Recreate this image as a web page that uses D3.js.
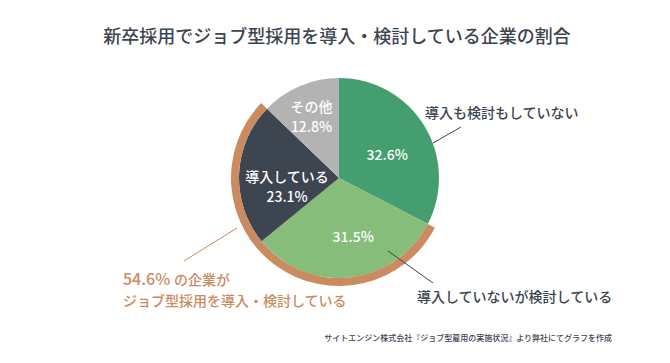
<!DOCTYPE html>
<html>
<head>
<meta charset="utf-8">
<script src="https://cdn.jsdelivr.net/npm/d3@7"></script>
<style>
  body { margin: 0; background: #fff; }
  text { font-family: "Noto Sans CJK JP", "Noto Sans", sans-serif; }
</style>
</head>
<body>
<svg id="chart" width="670" height="363"></svg>
<script>
// data
var categories = ["導入も検討もしていない", "導入していないが検討している", "導入している", "その他"];
var values = [32.6, 31.5, 23.1, 12.8];
var colors = ["#459e6f", "#86bd7a", "#3c4550", "#b3b3b3"];
var insideNames = ["", "", "導入している", "その他"];
var highlight = [1, 2]; // slices covered by the orange ring

var title = "新卒採用でジョブ型採用を導入・検討している企業の割合";
var source = "サイトエンジン株式会社『ジョブ型雇用の実施状況』より弊社にてグラフを作成";

// small nudges of the inside labels (layout only)
var nudge = [[-3, 8], [8, -1], [8, 11], [-4, -6]];

var svg = d3.select("#chart");
var cx = 339, cy = 178, R = 100;
var dark = "#3c4450", orange = "#c98b5f";

svg.append("text")
  .attr("x", 337).attr("y", 43)
  .attr("text-anchor", "middle")
  .attr("font-size", 18).attr("font-weight", 500)
  .attr("fill", dark)
  .text(title);

var g = svg.append("g").attr("transform", "translate(" + cx + "," + cy + ")");

var pie = d3.pie().sort(null).value(function(d) { return d; });
var arcs = pie(values);
var arc = d3.arc().innerRadius(0).outerRadius(R);
var labelArc = d3.arc().innerRadius(60).outerRadius(60);

g.selectAll("path.slice")
  .data(arcs)
  .enter().append("path")
  .attr("class", "slice")
  .attr("d", arc)
  .attr("fill", function(d, i) { return colors[i]; });

// orange ring around the highlighted slices
var ring = d3.arc().innerRadius(R).outerRadius(R + 8)
  .startAngle(arcs[highlight[0]].startAngle)
  .endAngle(arcs[highlight[highlight.length - 1]].endAngle);
g.append("path").attr("d", ring()).attr("fill", orange);

// labels inside slices
arcs.forEach(function(d, i) {
  var c = labelArc.centroid(d);
  var x = c[0] + nudge[i][0], y = c[1] + nudge[i][1];
  var t = g.append("text")
    .attr("text-anchor", "middle")
    .attr("fill", "#fff")
    .attr("font-size", 14).attr("font-weight", 500);
  if (insideNames[i]) {
    t.append("tspan").attr("x", x).attr("y", y - 5).text(insideNames[i]);
    t.append("tspan").attr("x", x).attr("y", y + 15).text(values[i].toFixed(1) + "%");
  } else {
    t.attr("x", x).attr("y", y + 5).text(values[i].toFixed(1) + "%");
  }
});

// leader lines + outside labels
svg.append("line").attr("x1", 433).attr("y1", 143).attr("x2", 461).attr("y2", 127)
  .attr("stroke", dark).attr("stroke-width", 1);
svg.append("text").attr("x", 425).attr("y", 118)
  .attr("font-size", 14).attr("font-weight", 500).attr("fill", dark)
  .text(categories[0]);

svg.append("line").attr("x1", 388).attr("y1", 251).attr("x2", 433).attr("y2", 283)
  .attr("stroke", dark).attr("stroke-width", 1);
svg.append("text").attr("x", 417).attr("y", 302)
  .attr("font-size", 14).attr("font-weight", 500).attr("fill", dark)
  .text(categories[1]);

var total = values[highlight[0]] + values[highlight[1]];
svg.append("line").attr("x1", 237).attr("y1", 228).attr("x2", 184).attr("y2", 261)
  .attr("stroke", orange).attr("stroke-width", 1);
svg.append("text").attr("x", 123).attr("y", 285)
  .attr("fill", orange).attr("font-weight", 500).attr("font-size", 16)
  .text(total.toFixed(1) + "%");
svg.append("text").attr("x", 174).attr("y", 285)
  .attr("fill", orange).attr("font-weight", 500).attr("font-size", 14)
  .text("の企業が");
svg.append("text").attr("x", 123).attr("y", 306)
  .attr("fill", orange).attr("font-weight", 500).attr("font-size", 14)
  .text("ジョブ型採用を導入・検討している");

svg.append("text").attr("x", 612).attr("y", 341)
  .attr("text-anchor", "end")
  .attr("font-size", 8).attr("font-weight", 500).attr("fill", dark)
  .text(source);
</script>
</body>
</html>
